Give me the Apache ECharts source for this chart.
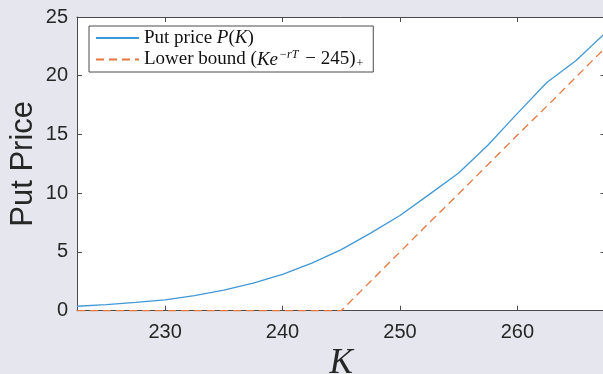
<!DOCTYPE html>
<html>
<head>
<meta charset="utf-8">
<script src="https://cdn.jsdelivr.net/npm/echarts@6/dist/echarts.min.js"></script>
<style>
html,body{margin:0;padding:0;background:#e6e6ef;}
#chart{width:603px;height:374px;}
</style>
</head>
<body>
<div id="chart"></div>
<script>
// Data
const strikes = [222.5, 225, 227.5, 230, 232.5, 235, 237.5, 240, 242.5, 245, 247.5, 250, 252.5, 255, 257.5, 260, 262.5, 265, 267.5];
const putPrice = [0.38, 0.52, 0.70, 0.92, 1.28, 1.75, 2.35, 3.10, 4.05, 5.20, 6.60, 8.10, 9.90, 11.72, 14.10, 16.80, 19.42, 21.30, 23.65];
const lowerBound = [0, 0, 0, 0, 0, 0, 0, 0, 0, 0, 2.5, 5.0, 7.5, 9.95, 12.45, 14.95, 17.4, 19.9, 22.4];
const xTickValues = [230, 240, 250, 260];
const seriesNames = ['put', 'lower'];

const axisColor = '#4a4a4a';
const textColor = '#262626';

const chart = echarts.init(document.getElementById('chart'), null, {renderer: 'canvas'});

const legendRich = {
  r: {fontFamily: 'Liberation Serif', fontSize: 19, color: '#111', lineHeight: 20},
  i: {fontFamily: 'Liberation Serif', fontStyle: 'italic', fontSize: 19, color: '#111', lineHeight: 20},
  sup: {fontFamily: 'Liberation Serif', fontStyle: 'italic', fontSize: 12, color: '#111', lineHeight: 20, padding: [0, 2, 9, 1]},
  sub: {fontFamily: 'Liberation Serif', fontSize: 12, color: '#111', lineHeight: 20, padding: [9, 0, 0, 1]}
};

chart.setOption({
  backgroundColor: '#e6e6ef',
  animation: false,
  grid: {
    left: 77, top: 17, right: -2.5, bottom: 63.3,
    outerBoundsMode: 'none', containLabel: false,
    show: true, backgroundColor: '#ffffff', borderWidth: 0
  },
  legend: {
    orient: 'vertical',
    left: 89, top: 26,
    padding: [2, 10, 2, 6],
    itemGap: 1,
    itemWidth: 43,
    itemHeight: 14,
    backgroundColor: '#ffffff',
    borderColor: axisColor,
    borderWidth: 1,
    borderRadius: 0,
    data: seriesNames.map(n => ({name: n, itemStyle: {opacity: 0}})),
    formatter: function (name) {
      if (name === 'put') return '{r|Put price }{i|P}{r|(}{i|K}{r|)}';
      return '{r|Lower bound (}{i|Ke}{sup|−rT}{r| − 245)}{sub|+}';
    },
    textStyle: {rich: legendRich, fontSize: 19, lineHeight: 20}
  },
  xAxis: [{
    type: 'value', min: 222.5, max: 267.5, position: 'bottom',
    name: 'K', nameLocation: 'middle', nameGap: 36, nameMoveOverlap: false,
    nameTextStyle: {fontFamily: 'Liberation Serif', fontStyle: 'italic', fontSize: 35, color: textColor},
    axisLine: {show: true, onZero: false, lineStyle: {color: axisColor, width: 1}},
    axisTick: {show: true, inside: true, length: 5, customValues: xTickValues, lineStyle: {color: axisColor}},
    axisLabel: {customValues: xTickValues, fontFamily: 'Liberation Sans', fontSize: 20, color: textColor, margin: 12},
    splitLine: {show: false}
  }, {
    type: 'value', min: 222.5, max: 267.5, position: 'top',
    axisLine: {show: true, onZero: false, lineStyle: {color: axisColor, width: 1}},
    axisTick: {show: true, inside: true, length: 5, customValues: xTickValues, lineStyle: {color: axisColor}},
    axisLabel: {show: false},
    splitLine: {show: false}
  }],
  yAxis: [{
    type: 'value', min: 0, max: 25, interval: 5, position: 'left',
    name: 'Put Price', nameLocation: 'middle', nameGap: 38, nameMoveOverlap: false,
    nameTextStyle: {fontFamily: 'Liberation Sans', fontSize: 31, color: textColor},
    axisLine: {show: true, onZero: false, lineStyle: {color: axisColor, width: 1}},
    axisTick: {show: true, inside: true, length: 5, lineStyle: {color: axisColor}},
    axisLabel: {fontFamily: 'Liberation Sans', fontSize: 20, color: textColor, margin: 9},
    splitLine: {show: false}
  }, {
    type: 'value', min: 0, max: 25, interval: 5, position: 'right',
    axisLine: {show: true, onZero: false, lineStyle: {color: axisColor, width: 1}},
    axisTick: {show: true, inside: true, length: 5, lineStyle: {color: axisColor}},
    axisLabel: {show: false},
    splitLine: {show: false}
  }],
  series: [{
    name: 'put', type: 'line',
    data: strikes.map((k, i) => [k, putPrice[i]]),
    showSymbol: false, symbol: 'none',
    lineStyle: {color: '#4298d6', width: 1.3},
    itemStyle: {color: '#4298d6'},
    clip: false
  }, {
    name: 'lower', type: 'line',
    data: strikes.map((k, i) => [k, lowerBound[i]]),
    showSymbol: false, symbol: 'none',
    lineStyle: {color: '#e5773f', width: 1.3, type: [8, 5]},
    itemStyle: {color: '#e5773f'},
    clip: false, z: 3
  }]
});
</script>
</body>
</html>
